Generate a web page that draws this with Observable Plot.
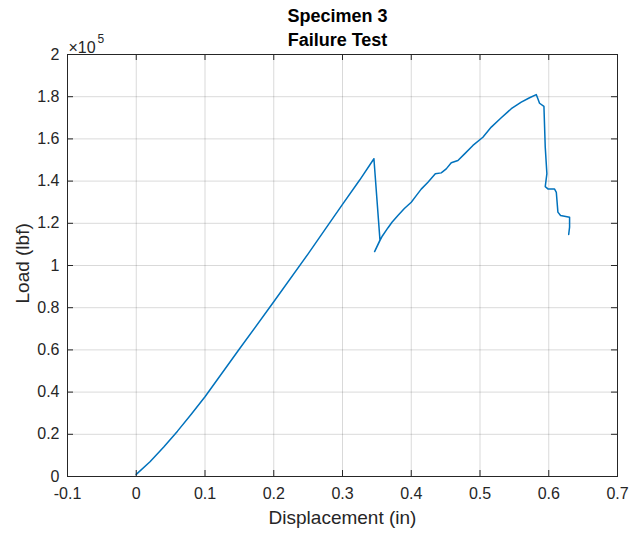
<!DOCTYPE html>
<html>
<head>
<meta charset="utf-8">
<script src="https://cdn.jsdelivr.net/npm/d3@7"></script>
<script src="https://cdn.jsdelivr.net/npm/@observablehq/plot@0.6"></script>
<style>
  html, body { margin: 0; padding: 0; background: #fff; }
</style>
</head>
<body>
<div id="chart"></div>
<script>
// Displacement (in)
const displacement = [
  0, 0.02, 0.04, 0.06, 0.08, 0.1, 0.15, 0.2, 0.25, 0.28,
  0.3, 0.325, 0.3457, 0.3545, 0.3467, 0.3544, 0.358, 0.366, 0.372, 0.3806,
  0.39, 0.400, 0.407, 0.4145, 0.4243, 0.435, 0.4436, 0.4509, 0.4582, 0.4679,
  0.4776, 0.4897, 0.5042, 0.5164, 0.5309, 0.5455, 0.56, 0.5721, 0.5818, 0.5842,
  0.5866, 0.593, 0.5949, 0.5973, 0.5949, 0.5988, 0.6085, 0.611, 0.6133, 0.6172,
  0.6303, 0.6303, 0.629
];
// Load (x 1e5 lbf)
const load = [
  0.01, 0.07, 0.14, 0.215, 0.295, 0.378, 0.604, 0.828, 1.055, 1.196,
  1.29, 1.405, 1.506, 1.12, 1.066, 1.118, 1.14, 1.178, 1.205, 1.237,
  1.27, 1.300, 1.33, 1.362, 1.395, 1.435, 1.439, 1.458, 1.487, 1.498,
  1.529, 1.569, 1.608, 1.656, 1.700, 1.743, 1.774, 1.795, 1.810, 1.790,
  1.769, 1.754, 1.561, 1.435, 1.374, 1.363, 1.362, 1.347, 1.253, 1.237,
  1.229, 1.182, 1.147
];
const xTicks = [-0.1, 0, 0.1, 0.2, 0.3, 0.4, 0.5, 0.6, 0.7];
const yTicks = [0, 0.2, 0.4, 0.6, 0.8, 1, 1.2, 1.4, 1.6, 1.8, 2];
const titleLines = ["Specimen 3", "Failure Test"];
const xLabel = "Displacement (in)";
const yLabel = "Load (lbf)";

const data = displacement.map((d, i) => ({d, l: load[i]}));
const fmt = v => String(+v.toFixed(1));

const W = 642, H = 535;
const mL = 67, mR = 25, mT = 54, mB = 59;
const pw = W - mL - mR, ph = H - mT - mB;
const tick = 6;
const ink = "#262626";

const chart = Plot.plot({
  width: W, height: H,
  marginLeft: mL, marginRight: mR, marginTop: mT, marginBottom: mB,
  x: {domain: [-0.1, 0.7]},
  y: {domain: [0, 2]},
  style: {fontFamily: "'Liberation Sans', Arial, Helvetica, sans-serif", fontSize: "16px", color: ink, background: "#fff"},
  marks: [
    Plot.gridX(xTicks, {stroke: "#000", strokeOpacity: 0.15, strokeWidth: 1}),
    Plot.gridY(yTicks, {stroke: "#000", strokeOpacity: 0.15, strokeWidth: 1}),
    Plot.line(data, {x: "d", y: "l", stroke: "#0072BD", strokeWidth: 1.5, curve: "monotone-x" === "x" ? "linear" : "linear"}),
    Plot.frame({stroke: ink, strokeWidth: 1}),
    // inward ticks on all four sides
    Plot.tickX(xTicks, {x: d => d, stroke: ink, insetTop: ph - tick}),
    Plot.tickX(xTicks, {x: d => d, stroke: ink, insetBottom: ph - tick}),
    Plot.tickY(yTicks, {y: d => d, stroke: ink, insetRight: pw - tick}),
    Plot.tickY(yTicks, {y: d => d, stroke: ink, insetLeft: pw - tick}),
    Plot.axisX(xTicks, {tickSize: 0, tickPadding: 11, tickFormat: fmt, fontSize: 16, fill: ink, label: null}),
    Plot.axisY(yTicks, {tickSize: 0, tickPadding: 8, tickFormat: fmt, fontSize: 16, fill: ink, label: null}),
    Plot.text([xLabel], {frameAnchor: "bottom", dy: 47, fontSize: 19, fill: ink}),
    Plot.text([yLabel], {frameAnchor: "left", dx: -45, dy: 38, rotate: -90, fontSize: 19, fill: ink}),
    Plot.text([titleLines[0]], {frameAnchor: "top", dy: -45, dx: -5, fontSize: 18, fontWeight: "bold", fill: "#000"}),
    Plot.text([titleLines[1]], {frameAnchor: "top", dy: -21, dx: -5, fontSize: 18, fontWeight: "bold", fill: "#000"}),
    Plot.text(["×10"], {frameAnchor: "top-left", textAnchor: "start", dx: 1, dy: -13, fontSize: 16, fill: ink}),
    Plot.text(["5"], {frameAnchor: "top-left", textAnchor: "start", dx: 30, dy: -20, fontSize: 12, fill: ink})
  ]
});
document.getElementById("chart").appendChild(chart);
</script>
</body>
</html>
